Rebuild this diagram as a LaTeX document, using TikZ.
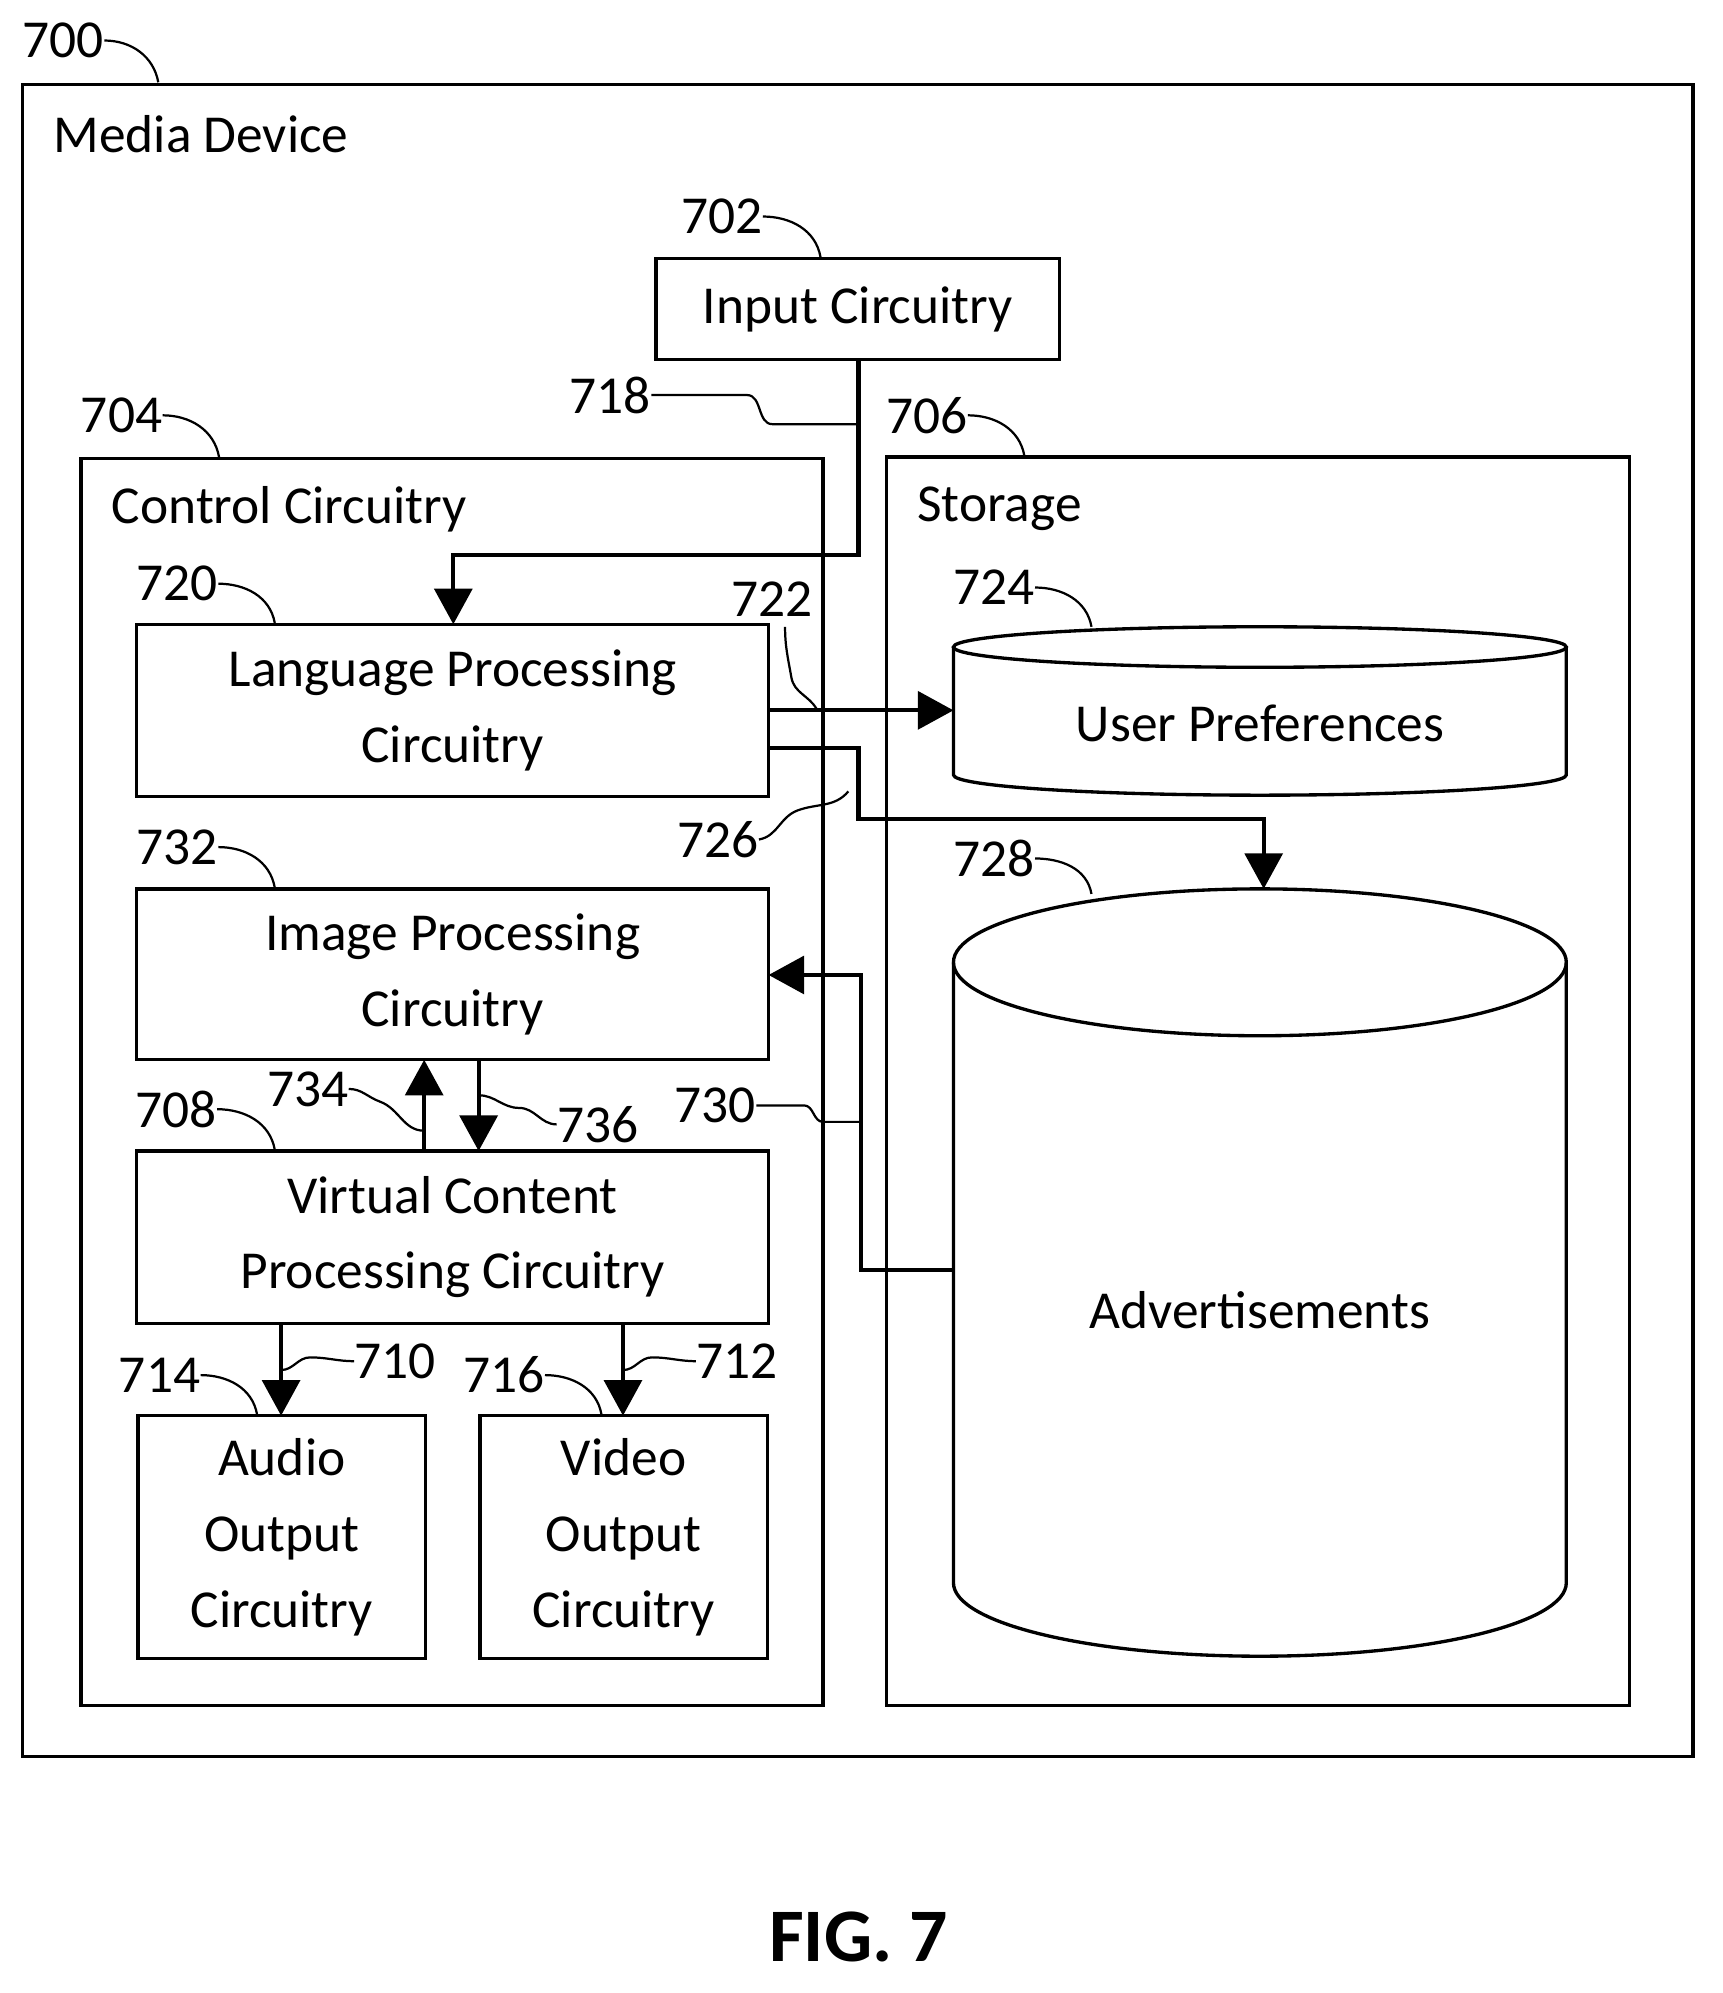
\documentclass[tikz,border=0pt]{standalone}
\usepackage{fontspec}
\setmainfont{Carlito}
\usetikzlibrary{arrows.meta,fit}
\begin{document}
\begin{tikzpicture}[x=0.02cm,y=-0.02cm,
  box/.style={draw,line width=1.5pt,inner sep=0pt},
  txt/.style={font=\fontsize{24}{30}\selectfont,align=center,inner sep=0pt},
  num/.style={font=\fontsize{24}{30}\selectfont,inner sep=0pt},
  sq/.style={line width=1pt},
  ar/.style={line width=1.8pt,-{Triangle[length=16pt,width=17pt]}},
  ln/.style={line width=1.8pt}]
\useasboundingbox (0,0) rectangle (1360,1574);
\fill[white] (0,0) rectangle (1360,1574);
% outer
\node[box,fit={(18,67)(1337,1387)}] (dev) {};
\node[txt,anchor=west] (devl) at (42,106) {Media Device};
\node[num] (n700) at (50,32) {700};
\draw[sq] (n700.east) to[out=0,in=100] (125,65);
% input
\node[box,fit={(518,204)(837,284)}] (inp) {};
\node[txt] at (inp) {Input Circuitry};
\node[num] (n702) at (570,171) {702};
\draw[sq] (n702.east) to[out=0,in=100] (648,203);
% control
\node[box,fit={(64,362)(650,1347)}] (ctl) {};
\node[txt,anchor=west] at (88,402) {Control Circuitry};
\node[num] (n704) at (96,328) {704};
\draw[sq] (n704.east) to[out=0,in=100] (173,361);
% storage
\node[box,fit={(700,361)(1287,1347)}] (sto) {};
\node[txt,anchor=west] at (724,402) {Storage};
\node[num] (n706) at (732,328) {706};
\draw[sq] (n706.east) to[out=0,in=100] (809,360);
% inner boxes
\node[box,fit={(108,493)(607,629)}] (lang) {};
\node[txt] at (lang) {Language Processing\\[4pt]Circuitry};
\node[num] (n720) at (140,461) {720};
\draw[sq] (n720.east) to[out=0,in=100] (217,492);
\node[box,fit={(108,702)(607,837)}] (img) {};
\node[txt] at (img) {Image Processing\\[4pt]Circuitry};
\node[num] (n732) at (140,669) {732};
\draw[sq] (n732.east) to[out=0,in=100] (217,701);
\node[box,fit={(108,909)(607,1045)}] (vir) {};
\node[txt] at (vir) {Virtual Content\\[4pt]Processing Circuitry};
\node[num] (n708) at (139,876) {708};
\draw[sq] (n708.east) to[out=0,in=100] (217,908);
\node[box,fit={(109,1118)(336,1310)}] (aud) {};
\node[txt] at (aud) {Audio\\[4pt]Output\\[4pt]Circuitry};
\node[num] (n714) at (126,1086) {714};
\draw[sq] (n714.east) to[out=0,in=100] (203,1117);
\node[box,fit={(379,1118)(606,1310)}] (vid) {};
\node[txt] at (vid) {Video\\[4pt]Output\\[4pt]Circuitry};
\node[num] (n716) at (398,1086) {716};
\draw[sq] (n716.east) to[out=0,in=100] (475,1117);
% cylinders
\draw[line width=1.5pt] (995,511) ellipse [x radius=242, y radius=16];
\draw[line width=1.5pt] (753,511) -- (753,612) arc[start angle=180,end angle=0,x radius=242,y radius=16] -- (1237,511);
\node[txt] (up) at (995,571) {User Preferences};
\node[num] (n724) at (785,464) {724};
\draw[sq] (n724.east) to[out=0,in=100] (862,495);
\draw[line width=1.5pt] (995,760) ellipse [x radius=242, y radius=58];
\draw[line width=1.5pt] (753,760) -- (753,1250) arc[start angle=180,end angle=0,x radius=242,y radius=58] -- (1237,760);
\node[txt] (ads) at (995,1035) {Advertisements};
\node[num] (n728) at (785,678) {728};
\draw[sq] (n728.east) to[out=0,in=100] (862,706);
% coordinates
\coordinate (inB) at (678,284);
\coordinate (langT) at (358,493);
\coordinate (langR1) at (607,561);
\coordinate (upL) at (753,561);
\coordinate (langR2) at (607,591);
\coordinate (adsT) at (998,702);
\coordinate (adsL) at (753,1003);
\coordinate (imgR) at (607,770);
% connectors
\draw[ar] (inB) -- (678,438) -- (358,438) -- (langT);
\draw[ar] (langR1) -- (upL);
\draw[ar] (langR2) -- (678,591) -- (678,647) -- (998,647) -- (adsT);
\draw[ar] (adsL) -- (680,1003) -- (680,770) -- (imgR);
\draw[ar] (335,909) -- (335,837);
\draw[ar] (378,837) -- (378,909);
\draw[ar] (222,1045) -- (222,1118);
\draw[ar] (492,1045) -- (492,1118);
% labels of connectors
\node[num] (n718) at (482,312) {718};
\draw[sq] (n718.east) -- (590,312) to[out=0,in=180] (610,335) -- (678,335);
\node[num] (n722) at (610,473) {722};
\draw[sq] (620,495) to[out=-90,in=100] (625,535) to[out=-80,in=120] (645,560);
\node[num] (n726) at (567,663) {726};
\draw[sq] (n726.east) to[out=10,in=200] (630,640) to[out=20,in=230] (670,625);
\node[num] (n730) at (565,873) {730};
\draw[sq] (n730.east) -- (635,873) to[out=0,in=180] (650,886) -- (680,886);
\node[num] (n734) at (243,860) {734};
\draw[sq] (n734.east) to[out=0,in=160] (300,870) to[out=-20,in=180] (335,893);
\node[num] (n736) at (472,888) {736};
\draw[sq] (n736.west) to[out=180,in=0] (410,875) to[out=180,in=0] (378,865);
\node[num] (n710) at (312,1075) {710};
\draw[sq] (n710.west) to[out=180,in=0] (245,1072) to[out=180,in=0] (222,1082);
\node[num] (n712) at (582,1075) {712};
\draw[sq] (n712.west) to[out=180,in=0] (515,1072) to[out=180,in=0] (492,1082);
% caption
\node[font=\fontsize{34}{40}\selectfont\bfseries] at (678,1530) {FIG. 7};
\end{tikzpicture}
\end{document}
